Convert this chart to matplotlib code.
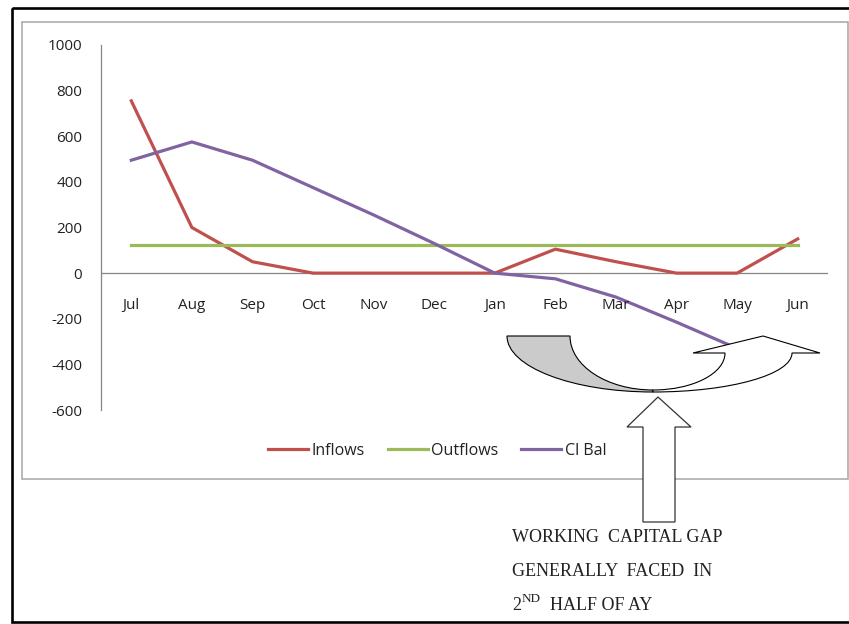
import matplotlib

matplotlib.use("Agg")
import matplotlib.pyplot as plt  # noqa: E402
from matplotlib.path import Path  # noqa: E402
from matplotlib.patches import PathPatch, Rectangle, Polygon  # noqa: E402
from matplotlib.transforms import offset_copy  # noqa: E402
import numpy as np  # noqa: E402

# --- data ---
MONTHS = ["Jul", "Aug", "Sep", "Oct", "Nov", "Dec",
          "Jan", "Feb", "Mar", "Apr", "May", "Jun"]
INFLOWS = [755, 200, 50, 0, 0, 0, 0, 105, 50, 0, 0, 150]
OUTFLOWS = [123] * 12
CL_BAL = [495, 575, 495, 375, 255, 130, 0, -25, -105, -215, -330, np.nan]
YTICKS = [-600, -400, -200, 0, 200, 400, 600, 800, 1000]

RED, GREEN, PURPLE = "#C0504D", "#9BBB59", "#8064A2"
W, H = 849, 624
FONT = "Open Sans"

fig = plt.figure(figsize=(W / 100, H / 100), dpi=100)
fig.patch.set_facecolor("white")

# main chart axes (pixel box 101..828 x 45..410)
ax = fig.add_axes([101 / W, 1 - 410 / H, 727 / W, 365 / H])
ax.set_facecolor("none")
x = np.arange(len(MONTHS))
lw = 2.3
ax.plot(x, INFLOWS, color=RED, lw=lw, label="Inflows", solid_joinstyle="miter")
ax.plot(x, OUTFLOWS, color=GREEN, lw=lw, label="Outflows")
ax.plot(x, CL_BAL, color=PURPLE, lw=lw, label="Cl Bal", solid_joinstyle="miter")
ax.set_xlim(-0.5, len(MONTHS) - 0.5)
ax.set_ylim(-600, 1000)
ax.axhline(0, color="#868686", lw=0.9, zorder=0)

for s in ("top", "right", "bottom"):
    ax.spines[s].set_visible(False)
ax.spines["left"].set_color("#868686")
ax.spines["left"].set_linewidth(0.9)
ax.set_xticks([])
ax.set_yticks(YTICKS)
ax.set_yticklabels([str(v) for v in YTICKS], fontfamily=FONT, fontsize=11,
                   color="#222222")
ax.tick_params(axis="y", length=0, pad=13.5)

lab_tr = offset_copy(ax.transData, fig=fig, y=-32, units="dots")
for i, m in enumerate(MONTHS):
    ax.text(i, 0, m, ha="center", va="center", transform=lab_tr,
            fontfamily=FONT, fontsize=11, color="#222222")

fig.legend(loc="center", bbox_to_anchor=(0.515, 1 - 451 / H), ncol=3,
           frameon=False, prop={"family": FONT, "size": 11.5},
           handlelength=2.5, handletextpad=0.2, columnspacing=1.45,
           borderpad=0, labelcolor="#222222")

# overlay in pixel coordinates for frames, shapes and note
ov = fig.add_axes([0, 0, 1, 1], zorder=5)
ov.set_xlim(0, W)
ov.set_ylim(H, 0)
ov.axis("off")
ov.patch.set_visible(False)

ov.add_patch(Rectangle((12, 8), 860, 614, fill=False, edgecolor="black", lw=1.9))
ov.add_patch(Rectangle((22, 22), 826, 457, fill=False, edgecolor="#A6A6A6", lw=1.1))

k = 0.5523
M, L, C = Path.MOVETO, Path.LINETO, Path.CURVE4

# shaded back part of the curved arrow
back = [
    ((507, 336), M), ((570, 336), L),
    ((570, 336 + k * 54), C), ((653 - k * 83, 390), C), ((653, 390), C),
    ((653, 392), L),
    ((653 - k * 146, 392), C), ((507, 336 + k * 56), C), ((507, 336), C),
    ((507, 336), Path.CLOSEPOLY),
]
verts, codes = zip(*back)
ov.add_patch(PathPatch(Path(verts, codes), facecolor="#CBCBCB",
                       edgecolor="black", lw=0.8))

# white front part with arrowhead
front = [
    ((653, 390), M),
    ((653 + k * 72, 390), C), ((725, 353 + k * 37), C), ((725, 353), C),
    ((693, 353), L), ((763, 336), L), ((820, 353), L), ((792, 353), L),
    ((792, 353 + k * 39), C), ((653 + k * 139, 392), C), ((653, 392), C),
    ((653, 390), Path.CLOSEPOLY),
]
verts, codes = zip(*front)
ov.add_patch(PathPatch(Path(verts, codes), facecolor="white",
                       edgecolor="black", lw=0.8))

# block up arrow
ov.add_patch(Polygon([(658, 397), (691, 427), (675, 427), (675, 522),
                      (643, 522), (643, 427), (627, 427)], closed=True,
                     facecolor="white", edgecolor="#333333", lw=0.9))

serif = "Liberation Serif"
note_kw = dict(fontfamily=serif, fontsize=13, color="#222222", va="center", ha="left")
ov.text(512, 537, "WORKING  CAPITAL GAP", **note_kw)
ov.text(512, 571, "GENERALLY  FACED  IN", **note_kw)
ov.text(512, 605, "2", **note_kw)
ov.text(521.5, 599, "ND", fontfamily=serif, fontsize=9.5, color="#222222",
        va="center", ha="left")
ov.text(550, 605, "HALF OF AY", **note_kw)

fig.savefig("out.png", dpi=100)
